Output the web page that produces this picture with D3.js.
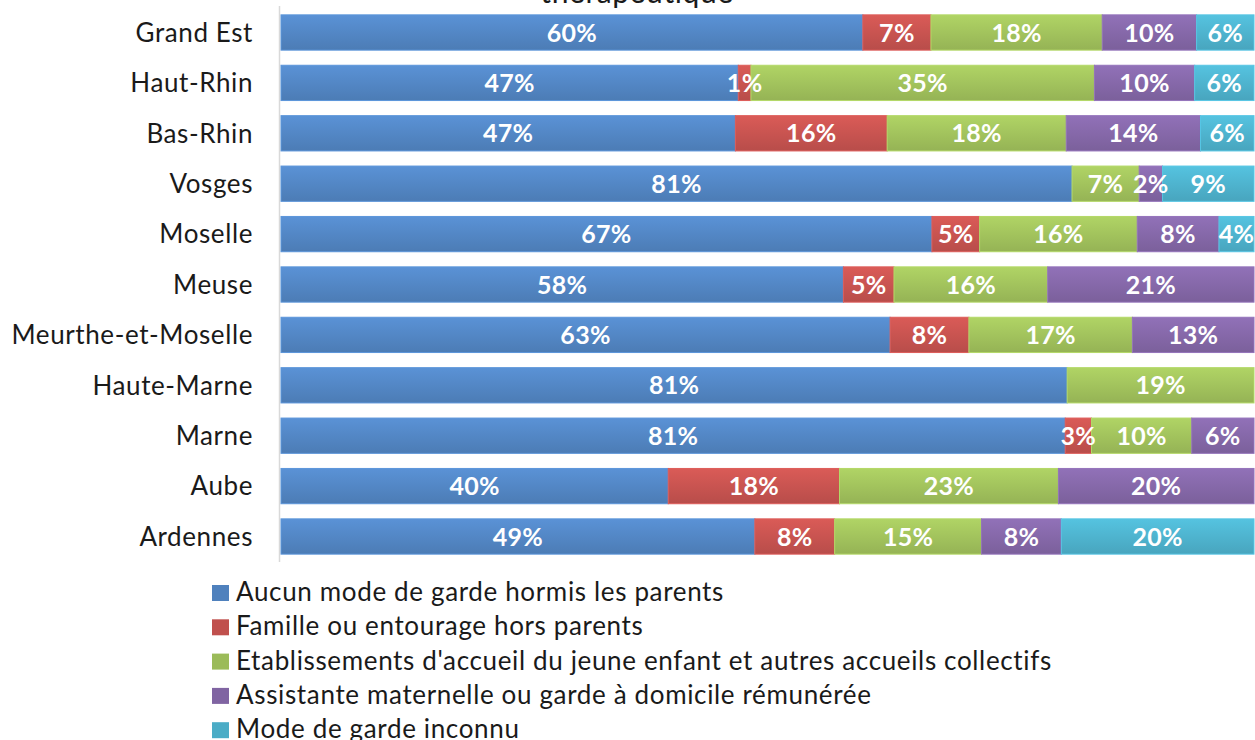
<!DOCTYPE html>
<html>
<head>
<meta charset="utf-8">
<script src="https://cdn.jsdelivr.net/npm/d3@7"></script>
<style>
  html, body { margin: 0; padding: 0; background: #ffffff; }
  svg { display: block; }
</style>
</head>
<body>
<svg id="chart" width="1255" height="740"></svg>
<script>
const categories = ["Grand Est", "Haut-Rhin", "Bas-Rhin", "Vosges", "Moselle", "Meuse",
  "Meurthe-et-Moselle", "Haute-Marne", "Marne", "Aube", "Ardennes"];

const seriesNames = [
  "Aucun mode de garde hormis les parents",
  "Famille ou entourage hors parents",
  "Etablissements d'accueil du jeune enfant et autres accueils collectifs",
  "Assistante maternelle ou garde à domicile rémunérée",
  "Mode de garde inconnu"
];

const aucun   = [59.8, 47.0, 46.7, 81.3, 66.9, 57.8, 62.6, 80.8, 80.6, 39.8, 48.7];
const famille = [ 7.0,  1.3, 15.6,  0.0,  4.9,  5.2,  8.1,  0.0,  2.7, 17.6,  8.2];
const etab    = [17.6, 35.3, 18.4,  6.9, 16.2, 15.8, 16.8, 19.2, 10.3, 22.5, 15.1];
const assist  = [ 9.7, 10.3, 13.8,  2.4,  8.4, 21.2, 12.5,  0.0,  6.4, 20.1,  8.2];
const inconnu = [ 5.9,  6.1,  5.5,  9.4,  3.6,  0.0,  0.0,  0.0,  0.0,  0.0, 19.8];

const colors = ["#4f81bd", "#c0504d", "#9bbb59", "#8064a2", "#4bacc6"];
const titleText = "thérapeutique";

const allSeries = [aucun, famille, etab, assist, inconnu];
const keys = ["s0", "s1", "s2", "s3", "s4"];
const table = categories.map((c, i) => {
  const row = { cat: c };
  allSeries.forEach((s, k) => row[keys[k]] = s[i]);
  return row;
});
const stacked = d3.stack().keys(keys)(table);

const svg = d3.select("#chart");
const FONT = "Lato, 'Open Sans', sans-serif";

const x = d3.scaleLinear().domain([0, 100]).range([281, 1254]);
const y = d3.scaleBand().domain(categories).range([7.3, 561.7])
  .paddingInner(0.3).paddingOuter(0.15);

// gradients
const defs = svg.append("defs");
colors.forEach((c, k) => {
  const g = defs.append("linearGradient").attr("id", "grad" + k)
    .attr("x1", 0).attr("y1", 0).attr("x2", 0).attr("y2", 1);
  g.append("stop").attr("offset", "0%").attr("stop-color", d3.color(c).brighter(0.35));
  g.append("stop").attr("offset", "100%").attr("stop-color", d3.color(c).darker(0.12));
});

// title (cropped at top, as in the reference)
svg.append("text")
  .attr("x", 637).attr("y", 3)
  .attr("text-anchor", "middle")
  .attr("font-family", FONT).attr("font-size", 30)
  .attr("letter-spacing", 0.6)
  .attr("fill", "#1a1a1a")
  .text(titleText);

// vertical axis line
svg.append("line")
  .attr("x1", 279.5).attr("x2", 279.5)
  .attr("y1", 6).attr("y2", 562)
  .attr("stroke", "#d9d9d9").attr("stroke-width", 1.5);

// category labels
svg.append("g").selectAll("text").data(categories).join("text")
  .attr("x", 253)
  .attr("y", d => y(d) + y.bandwidth() / 2)
  .attr("dy", "0.36em")
  .attr("text-anchor", "end")
  .attr("font-family", FONT).attr("font-size", 26)
  .attr("letter-spacing", 0.6)
  .attr("fill", "#1a1a1a")
  .text(d => d);

// bars
const layers = svg.append("g").selectAll("g").data(stacked).join("g")
  .attr("fill", (d, k) => "url(#grad" + k + ")")
  .attr("stroke", (d, k) => d3.color(colors[k]).brighter(0.4))
  .attr("stroke-width", 1);

layers.selectAll("rect").data(d => d.filter(p => p[1] - p[0] > 0)).join("rect")
  .attr("x", p => x(p[0]))
  .attr("y", p => y(p.data.cat))
  .attr("width", p => x(p[1]) - x(p[0]))
  .attr("height", y.bandwidth());

// value labels
const labelG = svg.append("g");
stacked.forEach((layer, k) => {
  labelG.selectAll("text.l" + k).data(layer.filter(p => p[1] - p[0] > 0)).join("text")
    .attr("class", "l" + k)
    .attr("x", p => (x(p[0]) + x(p[1])) / 2)
    .attr("y", p => y(p.data.cat) + y.bandwidth() / 2)
    .attr("dy", "0.36em")
    .attr("text-anchor", "middle")
    .attr("font-family", FONT).attr("font-size", 25).attr("font-weight", "bold")
    .attr("letter-spacing", 0.3)
    .attr("fill", "#ffffff")
    .text(p => Math.round(p[1] - p[0]) + "%");
});

// legend
const legend = svg.append("g").selectAll("g").data(seriesNames).join("g")
  .attr("transform", (d, i) => `translate(212, ${601 + i * 34.3})`);
legend.append("rect")
  .attr("x", 0).attr("y", -16).attr("width", 17).attr("height", 16)
  .attr("fill", (d, i) => colors[i]);
legend.append("text")
  .attr("x", 24).attr("y", 0)
  .attr("font-family", FONT).attr("font-size", 26)
  .attr("letter-spacing", 0.65)
  .attr("fill", "#1a1a1a")
  .text(d => d);
</script>
</body>
</html>
